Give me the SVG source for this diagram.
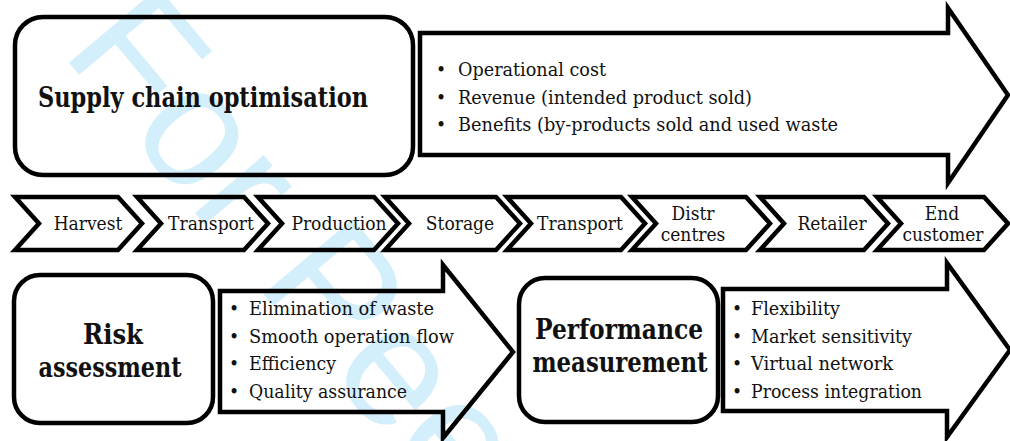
<svg xmlns="http://www.w3.org/2000/svg" width="1010" height="441" viewBox="0 0 1010 441">
<style>
.shape{fill:none;stroke:#000;stroke-width:4.5;stroke-linejoin:miter}
.box{fill:none;stroke:#000;stroke-width:4.5}
.t{font-family:"DejaVu Serif Condensed","DejaVu Serif",serif;font-stretch:condensed;fill:#111}
.b{font-size:19px}
.c{font-size:19px;text-anchor:middle}
.h{font-size:27px;font-weight:bold;text-anchor:middle}
.wm{font-family:"Liberation Sans",Arial,sans-serif;font-size:170px;fill:#d3effb}
</style>
<rect width="1010" height="441" fill="#fff"/>
<text class="wm" transform="translate(60,52) rotate(50)">For Peer Review</text>

<g id="supply-chain-optimisation">
<rect class="box" x="15" y="17" width="398" height="158" rx="28"/>
<text class="t h" x="203" y="107" textLength="330" lengthAdjust="spacingAndGlyphs">Supply chain optimisation</text>
</g>
<g id="optimisation-arrow">
<path class="shape" d="M420,33 H948 V8 L1008,95 L948,183 V155 H420 Z"/>
<text class="t b" x="436" y="76">•</text>
<text class="t b" x="458" y="76" textLength="148" lengthAdjust="spacingAndGlyphs">Operational cost</text>
<text class="t b" x="436" y="104">•</text>
<text class="t b" x="458" y="104" textLength="294" lengthAdjust="spacingAndGlyphs">Revenue (intended product sold)</text>
<text class="t b" x="436" y="131">•</text>
<text class="t b" x="458" y="131" textLength="380" lengthAdjust="spacingAndGlyphs">Benefits (by-products sold and used waste</text>
</g>

<g id="chain">
<g id="harvest"><path class="shape" d="M15,197 H118 L142,223.5 L118,250 H15 L39,223.5 Z"/><text class="t c" x="88" y="230">Harvest</text></g>
<g id="transport-1"><path class="shape" d="M137,197 H244 L268,223.5 L244,250 H137 L161,223.5 Z"/><text class="t c" x="211" y="230">Transport</text></g>
<g id="production"><path class="shape" d="M258,197 H374 L398,223.5 L374,250 H258 L282,223.5 Z"/><text class="t c" x="339" y="230">Production</text></g>
<g id="storage"><path class="shape" d="M385,197 H496 L520,223.5 L496,250 H385 L409,223.5 Z"/><text class="t c" x="460" y="230">Storage</text></g>
<g id="transport-2"><path class="shape" d="M507,197 H621 L645,223.5 L621,250 H507 L531,223.5 Z"/><text class="t c" x="580" y="230">Transport</text></g>
<g id="distr-centres"><path class="shape" d="M632,197 H746 L770,223.5 L746,250 H632 L656,223.5 Z"/><text class="t c" x="693" y="220">Distr</text><text class="t c" x="693" y="241">centres</text></g>
<g id="retailer"><path class="shape" d="M760,197 H864 L888,223.5 L864,250 H760 L784,223.5 Z"/><text class="t c" x="832" y="230">Retailer</text></g>
<g id="end-customer"><path class="shape" d="M877,197 H984 L1008,223.5 L984,250 H877 L901,223.5 Z"/><text class="t c" x="942" y="220">End</text><text class="t c" x="943" y="241">customer</text></g>
</g>

<g id="risk-assessment">
<rect class="box" x="14" y="275" width="199" height="148" rx="26"/>
<text class="t h" x="113" y="344">Risk</text>
<text class="t h" x="110" y="377" textLength="143" lengthAdjust="spacingAndGlyphs">assessment</text>
</g>
<g id="risk-arrow">
<path class="shape" d="M220,291 H443 V265 L513,352 L443,438 V412 H220 Z"/>
<text class="t b" x="229" y="315">•</text>
<text class="t b" x="249" y="315" textLength="185" lengthAdjust="spacingAndGlyphs">Elimination of waste</text>
<text class="t b" x="229" y="343">•</text>
<text class="t b" x="249" y="343" textLength="205" lengthAdjust="spacingAndGlyphs">Smooth operation flow</text>
<text class="t b" x="229" y="370">•</text>
<text class="t b" x="249" y="370" textLength="87" lengthAdjust="spacingAndGlyphs">Efficiency</text>
<text class="t b" x="229" y="398">•</text>
<text class="t b" x="249" y="398" textLength="158" lengthAdjust="spacingAndGlyphs">Quality assurance</text>
</g>

<g id="performance-measurement">
<rect class="box" x="519" y="278" width="199" height="144" rx="26"/>
<text class="t h" x="619" y="339" textLength="168" lengthAdjust="spacingAndGlyphs">Performance</text>
<text class="t h" x="620" y="372" textLength="175" lengthAdjust="spacingAndGlyphs">measurement</text>
</g>
<g id="performance-arrow">
<path class="shape" d="M723,289 H947 V263 L1010,350 L947,437 V411 H723 Z"/>
<text class="t b" x="732" y="315">•</text>
<text class="t b" x="751" y="315" textLength="89" lengthAdjust="spacingAndGlyphs">Flexibility</text>
<text class="t b" x="732" y="343">•</text>
<text class="t b" x="751" y="343" textLength="161" lengthAdjust="spacingAndGlyphs">Market sensitivity</text>
<text class="t b" x="732" y="370">•</text>
<text class="t b" x="751" y="370" textLength="142" lengthAdjust="spacingAndGlyphs">Virtual network</text>
<text class="t b" x="732" y="398">•</text>
<text class="t b" x="751" y="398" textLength="171" lengthAdjust="spacingAndGlyphs">Process integration</text>
</g>
</svg>
